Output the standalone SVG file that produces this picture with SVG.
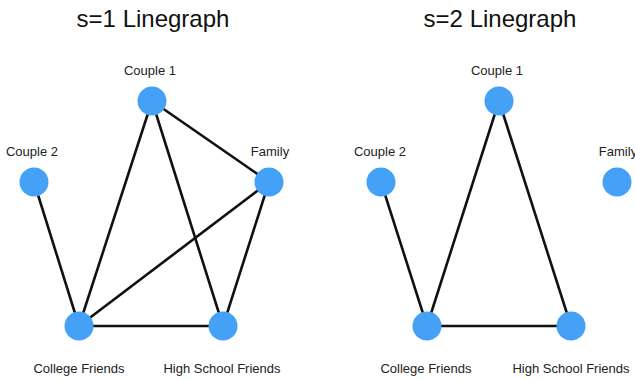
<svg xmlns="http://www.w3.org/2000/svg" width="635" height="380" viewBox="0 0 635 380">
  <style>
    .title { font-family: "Liberation Sans", Arial, sans-serif; font-size: 24px; fill: #111; text-anchor: middle; }
    .label { font-family: "Liberation Sans", Arial, sans-serif; font-size: 13px; fill: #222; text-anchor: middle; }
    .node circle { fill: #44a1f6; }
    .edges line { stroke: #111; stroke-width: 2.6; stroke-linecap: round; }
  </style>
  <rect width="635" height="380" fill="#ffffff"/>

  <text class="title" x="153" y="27">s=1 Linegraph</text>
  <text class="title" x="500" y="27">s=2 Linegraph</text>

  <!-- s=1 connectors -->
  <g id="edges-s1" class="edges">
    <line x1="152" y1="101" x2="79" y2="326"/>
    <line x1="152" y1="101" x2="223" y2="326"/>
    <line x1="152" y1="101" x2="269" y2="182"/>
    <line x1="34" y1="182" x2="79" y2="326"/>
    <line x1="269" y1="182" x2="79" y2="326"/>
    <line x1="269" y1="182" x2="223" y2="326"/>
    <line x1="79" y1="326" x2="223" y2="326"/>
  </g>

  <!-- s=2 connectors -->
  <g id="edges-s2" class="edges">
    <line x1="499" y1="101" x2="427" y2="326"/>
    <line x1="499" y1="101" x2="571" y2="326"/>
    <line x1="381" y1="182" x2="427" y2="326"/>
    <line x1="427" y1="326" x2="571" y2="326"/>
  </g>

  <!-- s=1 nodes -->
  <g id="s1-couple1" class="node">
    <circle cx="152" cy="101" r="14.5"/>
    <text class="label" x="150" y="75">Couple 1</text>
  </g>
  <g id="s1-couple2" class="node">
    <circle cx="34" cy="182" r="14.5"/>
    <text class="label" x="32" y="156">Couple 2</text>
  </g>
  <g id="s1-family" class="node">
    <circle cx="269" cy="182" r="14.5"/>
    <text class="label" x="270" y="156">Family</text>
  </g>
  <g id="s1-college" class="node">
    <circle cx="79" cy="326" r="14.5"/>
    <text class="label" x="79" y="373">College Friends</text>
  </g>
  <g id="s1-highschool" class="node">
    <circle cx="223" cy="326" r="14.5"/>
    <text class="label" x="222" y="373">High School Friends</text>
  </g>

  <!-- s=2 nodes -->
  <g id="s2-couple1" class="node">
    <circle cx="499" cy="101" r="14.5"/>
    <text class="label" x="497" y="75">Couple 1</text>
  </g>
  <g id="s2-couple2" class="node">
    <circle cx="381" cy="182" r="14.5"/>
    <text class="label" x="380" y="156">Couple 2</text>
  </g>
  <g id="s2-family" class="node">
    <circle cx="617" cy="182" r="14.5"/>
    <text class="label" x="618" y="156">Family</text>
  </g>
  <g id="s2-college" class="node">
    <circle cx="427" cy="326" r="14.5"/>
    <text class="label" x="426" y="373">College Friends</text>
  </g>
  <g id="s2-highschool" class="node">
    <circle cx="571" cy="326" r="14.5"/>
    <text class="label" x="571" y="373">High School Friends</text>
  </g>
</svg>
